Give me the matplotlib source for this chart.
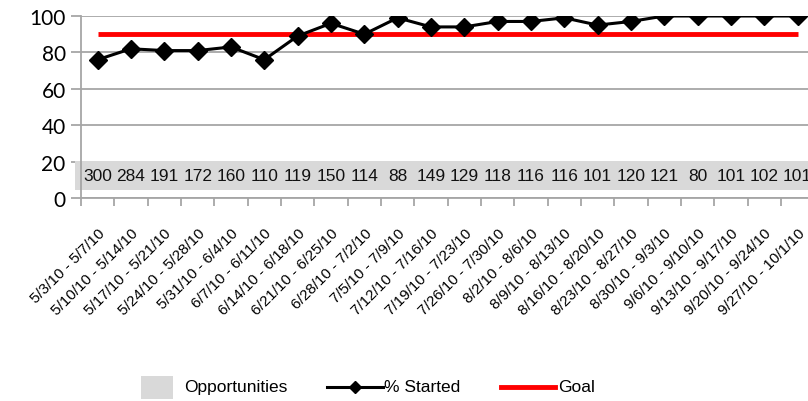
import matplotlib
matplotlib.use("Agg")
import matplotlib.pyplot as plt
from matplotlib.lines import Line2D
from matplotlib.patches import Rectangle

# weekly ranges
weeks = ["5/3/10 - 5/7/10", "5/10/10 - 5/14/10", "5/17/10 - 5/21/10", "5/24/10 - 5/28/10",
         "5/31/10 - 6/4/10", "6/7/10 - 6/11/10", "6/14/10 - 6/18/10", "6/21/10 - 6/25/10",
         "6/28/10 - 7/2/10", "7/5/10 - 7/9/10", "7/12/10 - 7/16/10", "7/19/10 - 7/23/10",
         "7/26/10 - 7/30/10", "8/2/10 - 8/6/10", "8/9/10 - 8/13/10", "8/16/10 - 8/20/10",
         "8/23/10 - 8/27/10", "8/30/10 - 9/3/10", "9/6/10 - 9/10/10", "9/13/10 - 9/17/10",
         "9/20/10 - 9/24/10", "9/27/10 - 10/1/10"]
opportunities = [300, 284, 191, 172, 160, 110, 119, 150, 114, 88, 149, 129,
                 118, 116, 116, 101, 120, 121, 80, 101, 102, 101]
pct_started = [76, 82, 81, 81, 83, 76, 89, 96, 90, 99, 94, 94,
               97, 97, 99, 95, 97, 100, 100, 100, 100, 100]
goal = [90] * len(weeks)
legend_labels = ["Opportunities", "% Started", "Goal"]

FONT = ["Liberation Sans", "DejaVu Sans"]
GREY = "#d9d9d9"
GRID = "#a6a6a6"

fig = plt.figure(figsize=(8.08, 4.02), dpi=100)
ax = fig.add_axes([0.1002, 0.505, 0.9076, 0.4527])

x = list(range(len(weeks)))
ax.set_xlim(-0.5, len(weeks) - 0.5)
ax.set_ylim(0, 100)

# grey band with opportunity counts
ax.axhspan(4.4, 20.3, xmin=-0.008, xmax=1.0, color=GREY, lw=0, zorder=1, clip_on=False)
for xi, n in zip(x, opportunities):
    ax.text(xi, 12.2, str(n), ha="center", va="center", fontsize=12.5,
            family=FONT, color="#111111", zorder=2)

ax.plot(x, goal, color="#ff0000", lw=3.5, solid_capstyle="butt", zorder=3)
ax.plot(x, pct_started, color="black", lw=2.2, marker="D", markersize=9.5, zorder=4)

ax.set_yticks([0, 20, 40, 60, 80, 100])
ax.grid(axis="y", color=GRID, lw=1.3, zorder=0)
ax.set_axisbelow(True)
for side in ["top", "right"]:
    ax.spines[side].set_visible(False)
for side in ["left", "bottom"]:
    ax.spines[side].set_color(GRID)
    ax.spines[side].set_linewidth(1.3)
ax.tick_params(axis="y", length=7, width=1.3, color=GRID, labelsize=15, pad=4)
for lab in ax.get_yticklabels():
    lab.set_family(["Lato", "DejaVu Sans"])

ax.set_xticks(x)
ax.set_xticks([i - 0.5 for i in range(len(weeks) + 1)], minor=True)
ax.set_xticklabels(weeks, rotation=45, ha="right", va="top", rotation_mode="anchor",
                   fontsize=11, family=FONT)
ax.tick_params(axis="x", which="major", length=0, pad=20)
ax.tick_params(axis="x", which="minor", length=6, width=1.3, color=GRID)

# legend drawn by hand at the bottom (figure pixel coords / size)
W, H = 808.0, 402.0
ly = 1 - 388 / H
fig.add_artist(Rectangle((141 / W, 1 - 400 / H), 32 / W, 23 / H,
                         transform=fig.transFigure, facecolor=GREY, edgecolor="none"))
fig.text(184 / W, ly, legend_labels[0], ha="left", va="center", fontsize=12.5, family=FONT)
fig.add_artist(Line2D([327 / W, 383 / W], [ly, ly], transform=fig.transFigure,
                      color="black", lw=2.2))
fig.add_artist(Line2D([355 / W], [ly], transform=fig.transFigure, color="black",
                      marker="D", markersize=6.5))
fig.text(384 / W, ly, legend_labels[1], ha="left", va="center", fontsize=12.5, family=FONT)
fig.add_artist(Line2D([501 / W, 555 / W], [ly, ly], transform=fig.transFigure,
                      color="#ff0000", lw=3.5))
fig.text(558 / W, ly, legend_labels[2], ha="left", va="center", fontsize=12.5, family=FONT)

fig.savefig("out.png", dpi=100)
